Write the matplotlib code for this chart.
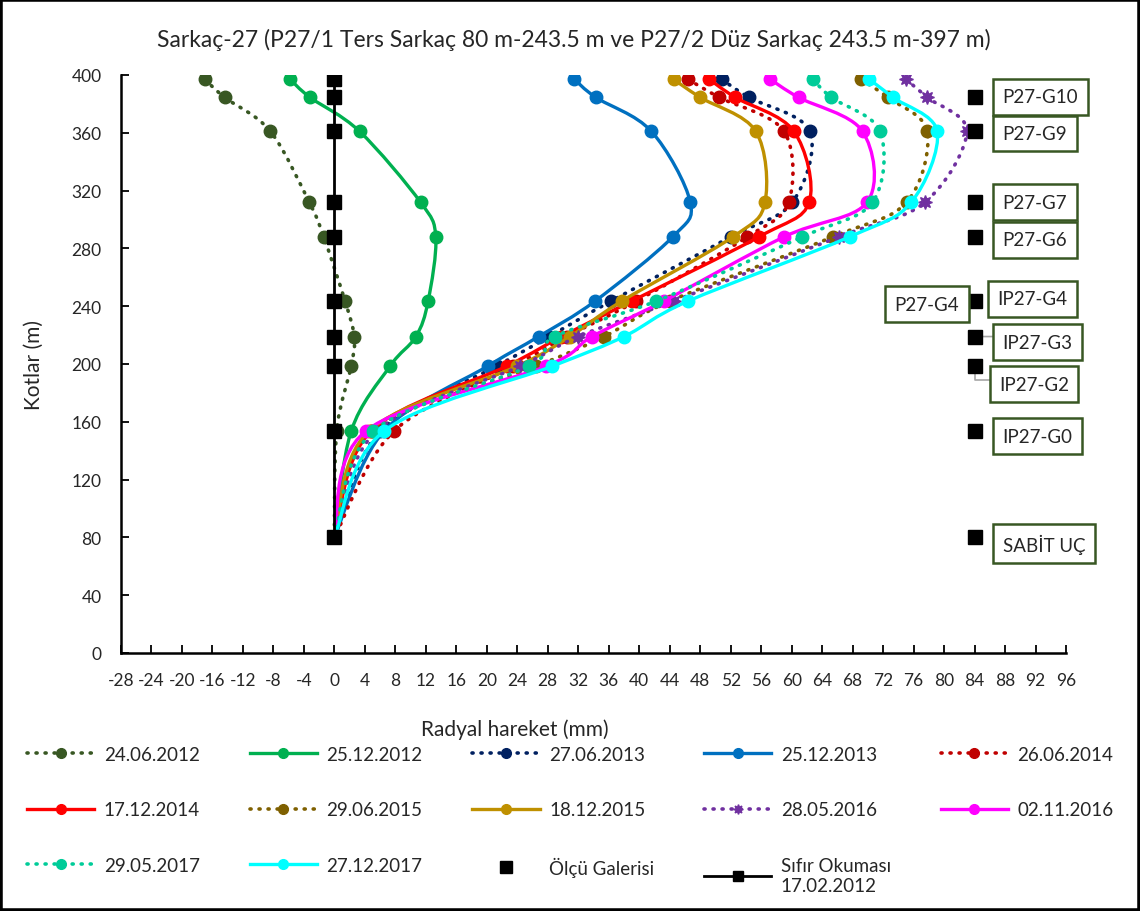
import numpy as np
from matplotlib import pyplot as plt
from matplotlib.path import Path
from matplotlib.patches import PathPatch, Rectangle
from matplotlib.lines import Line2D

plt.rcParams['font.family'] = ['Lato', 'DejaVu Sans']
plt.rcParams['axes.unicode_minus'] = False

# kotlar (m), ustten alta
kotlar = [397, 384.5, 361, 312, 288, 243.5, 219, 198.5, 153.5, 80]

tarihler = ["24.06.2012", "25.12.2012", "27.06.2013", "25.12.2013", "26.06.2014",
            "17.12.2014", "29.06.2015", "18.12.2015", "28.05.2016", "02.11.2016",
            "29.05.2017", "27.12.2017"]

h_24062012 = [-17.0, -14.4, -8.4, -3.3, -1.4, 1.4, 2.6, 2.2, 0.3, 0]
h_25122012 = [-5.8, -3.2, 3.3, 11.3, 13.3, 12.3, 10.7, 7.3, 2.2, 0]
h_27062013 = [50.8, 54.4, 62.4, 60.1, 52.0, 36.3, 28.2, 21.3, 6.0, 0]
h_25122013 = [31.5, 34.3, 41.6, 46.7, 44.4, 34.2, 26.8, 20.1, 6.5, 0]
h_26062014 = [46.4, 50.5, 59.0, 59.6, 54.2, 39.6, 30.5, 23.5, 7.8, 0]
h_17122014 = [49.2, 52.6, 60.3, 62.3, 55.7, 39.0, 29.8, 22.6, 4.8, 0]
h_29062015 = [69.1, 72.6, 77.8, 75.1, 65.4, 44.0, 35.4, 26.5, 5.0, 0]
h_18122015 = [44.5, 48.0, 55.3, 56.5, 52.3, 37.7, 30.9, 24.0, 4.5, 0]
h_28052016 = [75.0, 77.8, 83.0, 77.5, 66.2, 44.5, 32.0, 24.4, 5.5, 0]
h_02112016 = [57.2, 60.9, 69.3, 69.9, 59.0, 43.2, 33.8, 27.8, 4.1, 0]
h_29052017 = [62.8, 65.2, 71.6, 70.6, 61.4, 42.2, 28.9, 25.5, 5.1, 0]
h_27122017 = [70.2, 73.3, 79.1, 75.7, 67.6, 46.4, 38.0, 28.6, 6.5, 0]

hareketler = [h_24062012, h_25122012, h_27062013, h_25122013, h_26062014, h_17122014,
              h_29062015, h_18122015, h_28052016, h_02112016, h_29052017, h_27122017]

sifir_okuma = [0, 0, 0, 0, 0, 0, 0, 0, 0, 0]

galeri_x = [84, 84, 84, 84, 84, 84, 84, 84, 84]
galeri_kot = [384.5, 361, 312, 288, 243.5, 219, 198.5, 153.5, 80]

renkler = ["#385723", "#00B050", "#002060", "#0070C0", "#C00000", "#FF0000",
           "#7F6000", "#BF9000", "#7030A0", "#FF00FF", "#00CC99", "#00FFFF"]
noktali = [True, False, True, False, True, False, True, False, True, False, True, False]
isaretler = ['o'] * 8 + [(8, 1, 0)] + ['o'] * 3

# galeri etiketleri: (metin, x, y, hizalama)
etiketler = [("P27-G10", 87.7, 384.8, 'left'),
             ("P27-G9", 87.7, 359.5, 'left'),
             ("P27-G7", 87.7, 312, 'left'),
             ("P27-G6", 87.7, 286, 'left'),
             ("IP27-G4", 87.0, 245, 'left'),
             ("P27-G4", 82.0, 241.5, 'right'),
             ("IP27-G3", 87.7, 215, 'left'),
             ("IP27-G2", 87.2, 186, 'left'),
             ("IP27-G0", 87.7, 150, 'left'),
             ("SABİT UÇ", 87.7, 75.5, 'left')]


def egri(x, y):
    # Excel tarzi yumusak cizgi (bezier)
    p = np.column_stack([x, y]).astype(float)
    n = len(p)
    verts = [p[0]]
    codes = [Path.MOVETO]
    for i in range(n - 1):
        p0 = p[i - 1] if i > 0 else p[i]
        p3 = p[i + 2] if i + 2 < n else p[i + 1]
        verts += [p[i] + (p[i + 1] - p0) / 6, p[i + 1] - (p3 - p[i]) / 6, p[i + 1]]
        codes += [Path.CURVE4] * 3
    return Path(verts, codes)


fig = plt.figure(figsize=(11.4, 9.12), dpi=100)
ax = fig.add_axes([121 / 1140, 258 / 912, 945 / 1140, 578 / 912])

dot_ls = (0, (0.3, 2.2))
handles = []
for i in range(len(tarihler)):
    c = renkler[i]
    ls = dot_ls if noktali[i] else '-'
    lw = 2.6 if noktali[i] else 2.4
    patch = PathPatch(egri(hareketler[i], kotlar), fill=False, edgecolor=c, lw=lw,
                      linestyle=ls, capstyle='round', zorder=3 + i)
    ax.add_patch(patch)
    ms = 10 if isaretler[i] != 'o' else 9
    ax.plot(hareketler[i], kotlar, ls='none', marker=isaretler[i], ms=ms, color=c,
            mec=c, zorder=3 + i)
    handles.append(Line2D([], [], color=c, ls=ls, lw=lw, marker=isaretler[i], ms=7,
                          dash_capstyle='round'))

ax.plot(galeri_x, galeri_kot, ls='none', marker='s', ms=9.5, color='black', zorder=20)
handles.append(Line2D([], [], ls='none', marker='s', ms=8, color='black'))
ax.plot(sifir_okuma, kotlar, '-', marker='s', ms=9.5, lw=2, color='black', zorder=21)
handles.append(Line2D([], [], ls='-', lw=2, marker='s', ms=7, color='black'))

for metin, x, y, ha in etiketler:
    ax.text(x, y, metin, ha=ha, va='center', fontsize=13.5, color='#262626', zorder=25,
            bbox=dict(boxstyle='square,pad=0.5', fc='white', ec='#385723', lw=1.8))

ax.annotate("", xy=(84.6, 219), xytext=(86.8, 219),
            arrowprops=dict(arrowstyle='-', color='#A6A6A6', lw=1.2))
ax.annotate("", xy=(84, 197), xytext=(86.4, 189),
            arrowprops=dict(arrowstyle='-', color='#A6A6A6', lw=1.2,
                            connectionstyle='angle,angleA=0,angleB=90,rad=0'))

ax.set_xlim(-28, 96)
ax.set_ylim(0, 400)
ax.set_xticks(np.arange(-28, 97, 4))
ax.set_yticks(np.arange(0, 401, 40))
ax.tick_params(direction='in', length=6, width=1.3, labelsize=12.5, pad=14,
               labelcolor='#262626')
for s in ['top', 'right']:
    ax.spines[s].set_visible(False)
for s in ['left', 'bottom']:
    ax.spines[s].set_linewidth(1.8)

ax.set_xlabel("Radyal hareket (mm)", fontsize=15, color='#262626')
ax.xaxis.set_label_coords(0.417, -0.114)
ax.set_ylabel("Kotlar (m)", fontsize=15, color='#262626')
ax.yaxis.set_label_coords(-0.082, 0.5)

fig.text(574 / 1140, 1 - 40 / 912,
         "Sarkaç-27 (P27/1 Ters Sarkaç 80 m-243.5 m ve P27/2 Düz Sarkaç 243.5 m-397 m)",
         ha='center', va='center', fontsize=16.5, color='#262626')

etiket_isim = tarihler + ["Ölçü Galerisi", "Sıfır Okuması\n17.02.2012"]
sira = [0, 5, 10, 1, 6, 11, 2, 7, 12, 3, 8, 13, 4, 9]
fig.legend([handles[k] for k in sira], [etiket_isim[k] for k in sira],
           loc='upper left', bbox_to_anchor=(10 / 1140, 1 - 730 / 912), ncol=5,
           frameon=False, fontsize=13.5, handlelength=3.6, handletextpad=0.5,
           columnspacing=2.65, labelspacing=2.05, numpoints=1, labelcolor='#262626')

fig.patches.append(Rectangle((0, 0), 1, 1, transform=fig.transFigure, fill=False,
                             ec='black', lw=4))

plt.savefig("out.png", dpi=100)
